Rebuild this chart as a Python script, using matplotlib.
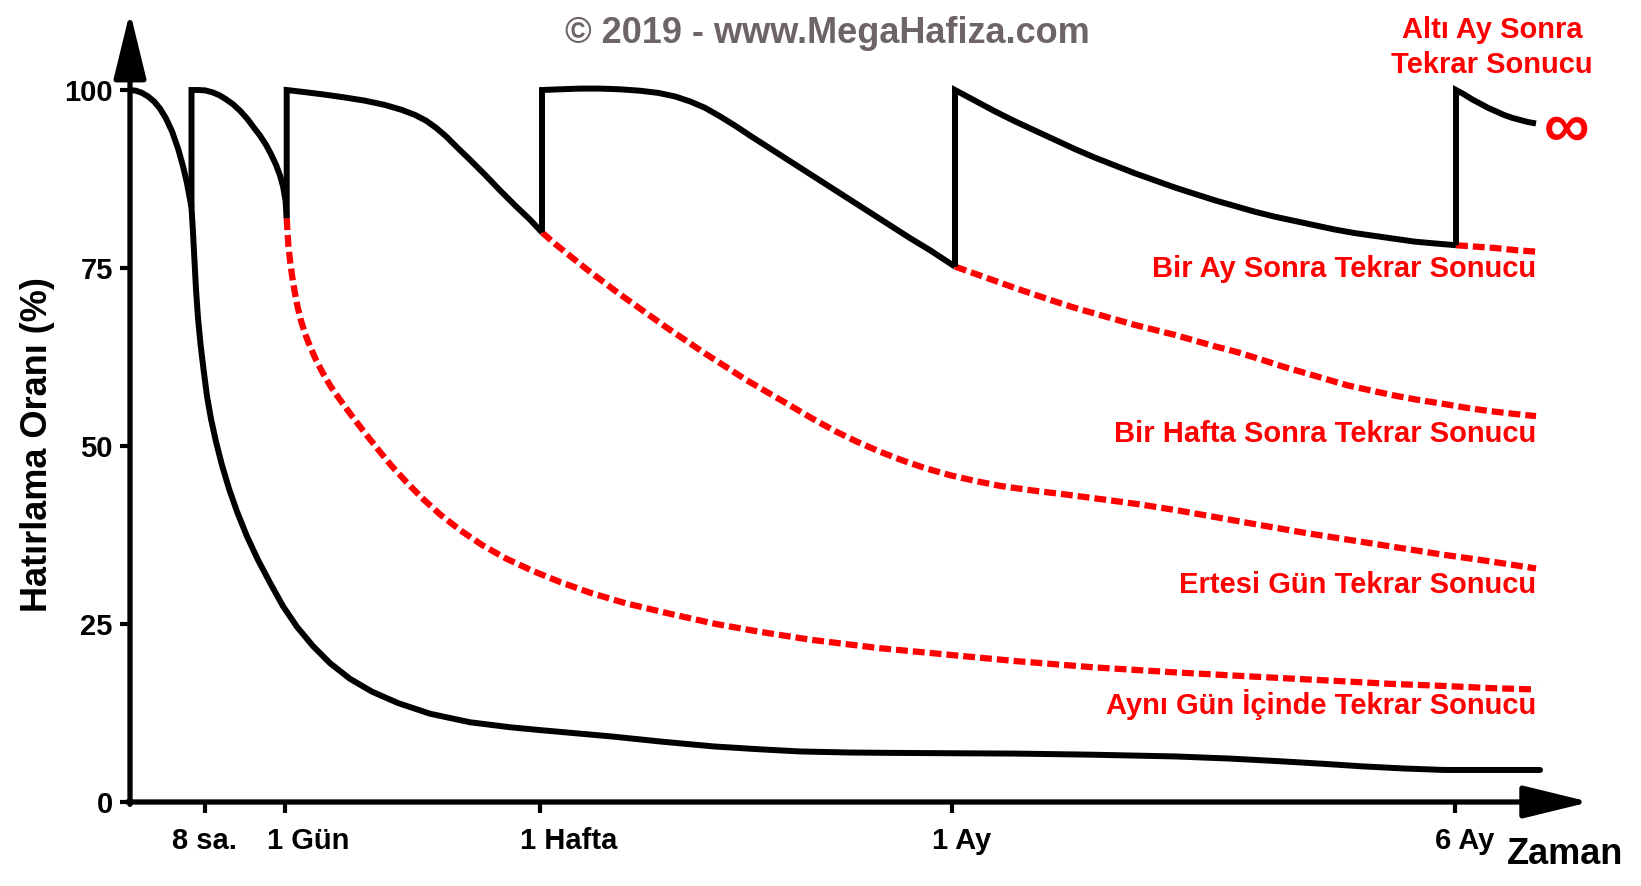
import matplotlib
matplotlib.use("Agg")
import matplotlib.pyplot as plt
from matplotlib.transforms import ScaledTranslation

# x is a drawing scale for time (not linear time), y is retention in %
tick_pos = [75, 155, 410, 822, 1325]
tick_labels = ["8 sa.", "1 Gün", "1 Hafta", "1 Ay", "6 Ay"]
y_ticks = [0, 25, 50, 75, 100]

# no review at all
unutma_x = [0, 6, 12, 18, 24, 30, 36, 42, 48, 53, 57, 61.5, 63, 64.5, 66, 68, 70.5, 73.5, 77,
            81, 86, 92, 99, 107, 117, 128, 140, 153, 167, 183, 200, 220, 242, 268, 300, 340,
            380, 410, 450, 482, 530, 584, 630, 670, 720, 760, 820, 885, 960, 1045, 1100, 1153,
            1195, 1233, 1275, 1314, 1360, 1410]
unutma_y = [100, 99.9, 99.6, 99.1, 98.4, 97.4, 96, 94.2, 91.8, 89.3, 86.9, 83.5, 80, 76, 72,
            68, 64.3, 60.8, 57, 53.8, 50.6, 47.3, 44, 40.8, 37.3, 34, 30.8, 27.5, 24.6, 21.9,
            19.5, 17.3, 15.5, 13.9, 12.4, 11.2, 10.5, 10.1, 9.6, 9.2, 8.5, 7.8, 7.4, 7.1, 6.95,
            6.9, 6.85, 6.8, 6.65, 6.4, 6.1, 5.7, 5.35, 5.0, 4.7, 4.5, 4.5, 4.5]

# after each review (first point = level just before the review)
tekrar_8sa_x = [61.5, 61.5, 68, 75, 82, 89, 96, 103, 110, 117, 124, 130, 136, 141, 146, 150,
                153, 155.5, 156.7]
tekrar_8sa_y = [83.5, 100, 100, 99.95, 99.7, 99.3, 98.7, 98.0, 97.1, 96.0, 94.7, 93.6, 92.3,
                91.0, 89.5, 88.0, 86.5, 84.5, 82.0]

tekrar_gun_x = [156.7, 156.7, 175, 195, 215, 235, 255, 272, 285, 296, 306, 316, 326, 340, 355,
                370, 385, 400, 412]
tekrar_gun_y = [82.0, 100, 99.7, 99.35, 98.95, 98.5, 97.9, 97.2, 96.5, 95.7, 94.7, 93.5, 92.1,
                90.2, 88.1, 85.9, 83.8, 81.8, 80.0]

tekrar_hafta_x = [412, 412, 430, 450, 470, 490, 510, 528, 545, 560, 575, 590, 605, 620, 640,
                  660, 680, 700, 720, 740, 760, 780, 800, 825]
tekrar_hafta_y = [80.0, 100, 100.1, 100.2, 100.2, 100.1, 99.9, 99.6, 99.1, 98.4, 97.5, 96.3,
                  95.0, 93.6, 91.8, 90.0, 88.2, 86.4, 84.6, 82.8, 81.0, 79.2, 77.5, 75.2]

tekrar_ay_x = [825, 825, 845, 865, 885, 905, 925, 945, 965, 985, 1005, 1025, 1045, 1065, 1085,
               1105, 1125, 1145, 1165, 1185, 1205, 1225, 1245, 1265, 1285, 1305, 1326]
tekrar_ay_y = [75.2, 100, 98.5, 97.0, 95.6, 94.3, 93.0, 91.7, 90.5, 89.4, 88.3, 87.3, 86.3,
               85.4, 84.5, 83.7, 82.9, 82.2, 81.6, 81.0, 80.4, 79.9, 79.5, 79.1, 78.7, 78.45,
               78.2]

tekrar_6ay_x = [1326, 1326, 1334, 1342, 1350, 1358, 1366, 1374, 1382, 1390, 1398, 1406]
tekrar_6ay_y = [78.2, 100, 99.4, 98.7, 98.1, 97.5, 97.0, 96.5, 96.1, 95.8, 95.5, 95.3]

# forgetting if the next review is skipped
ayni_gun_x = [156.7, 157.5, 158.5, 160, 162, 164.5, 167.5, 171, 175, 180, 186, 193, 201, 211,
              222, 234, 247, 261, 276, 292, 310, 330, 352, 376, 402, 430, 460, 496, 541, 586,
              630, 680, 750, 810, 885, 965, 1046, 1125, 1207, 1260, 1314, 1360, 1406]
ayni_gun_y = [82, 80, 78, 76.1, 74, 71.8, 69.6, 67.6, 65.8, 64.0, 62.1, 60.2, 58.3, 56.3, 54.2,
              52.0, 49.7, 47.3, 45.0, 42.7, 40.4, 38.2, 36.1, 34.2, 32.5, 30.9, 29.4, 27.9, 26.4,
              25.0, 23.9, 22.8, 21.6, 20.8, 19.8, 18.9, 18.2, 17.6, 17.0, 16.6, 16.3, 16.0, 15.8]

ertesi_gun_x = [412, 425, 440, 456, 472, 488, 504, 520, 537, 555, 575, 595, 616, 638, 660, 683,
                705, 727, 750, 772, 795, 820, 845, 870, 900, 935, 973, 1010, 1050, 1090, 1130,
                1175, 1220, 1265, 1310, 1360, 1406]
ertesi_gun_y = [80, 78.4, 76.7, 74.9, 73.2, 71.5, 69.9, 68.3, 66.6, 64.9, 63.0, 61.2, 59.3,
                57.5, 55.7, 53.8, 52.1, 50.6, 49.2, 48.0, 46.9, 45.9, 45.1, 44.4, 43.8, 43.2,
                42.5, 41.8, 40.9, 39.9, 38.9, 37.8, 36.8, 35.8, 34.8, 33.8, 32.8]

bir_hafta_x = [825, 845, 865, 885, 906, 925, 945, 965, 985, 1005, 1025, 1045, 1065, 1085, 1107,
               1130, 1152, 1174, 1196, 1218, 1241, 1264, 1287, 1310, 1335, 1360, 1385, 1406]
bir_hafta_y = [75.2, 74.2, 73.2, 72.2, 71.2, 70.3, 69.4, 68.6, 67.8, 67.0, 66.3, 65.6, 64.8,
               64.0, 63.2, 62.2, 61.2, 60.3, 59.4, 58.5, 57.8, 57.1, 56.5, 56.0, 55.4, 54.9,
               54.5, 54.2]

bir_ay_x = [1326, 1346, 1366, 1386, 1406]
bir_ay_y = [78.2, 78.0, 77.8, 77.5, 77.3]

sonuc_labels = ["Bir Ay Sonra Tekrar Sonucu", "Bir Hafta Sonra Tekrar Sonucu",
                "Ertesi Gün Tekrar Sonucu", "Aynı Gün İçinde Tekrar Sonucu"]
sonuc_label_y = [73.8, 50.5, 29.3, 12.4]

RED = "#ff0000"
plt.rcParams['font.family'] = ['Liberation Sans', 'DejaVu Sans']
plt.rcParams['font.weight'] = 'bold'

fig = plt.figure(figsize=(16.41, 8.86), dpi=100)
ax = fig.add_axes([130 / 1641, 84 / 886, 1460 / 1641, 790.3 / 886])
ax.set_xlim(0, 1460)
ax.set_ylim(0, 111)
for s in ax.spines.values():
    s.set_visible(False)

# red dashed curves (drawn first so black sits on top)
dash = (0, (1.9, 0.8))
for xs, ys in [(ayni_gun_x, ayni_gun_y), (ertesi_gun_x, ertesi_gun_y),
               (bir_hafta_x, bir_hafta_y), (bir_ay_x, bir_ay_y)]:
    ax.plot(xs, ys, color=RED, lw=4.5, linestyle=dash, dash_capstyle='butt',
            dash_joinstyle='round', zorder=2)

ax.plot(unutma_x, unutma_y, color='black', lw=4.3, solid_capstyle='round',
        solid_joinstyle='round', zorder=3)
for xs, ys in [(tekrar_8sa_x, tekrar_8sa_y), (tekrar_gun_x, tekrar_gun_y),
               (tekrar_hafta_x, tekrar_hafta_y), (tekrar_ay_x, tekrar_ay_y),
               (tekrar_6ay_x, tekrar_6ay_y)]:
    ax.plot(xs, ys, color='black', lw=4.3, solid_joinstyle='miter', solid_capstyle='butt', zorder=3)

# axis arrows
arrow = dict(arrowstyle='-|>,head_length=4.1,head_width=1.0', color='black', lw=3.8,
             shrinkA=0, shrinkB=0, mutation_scale=10)
ax.annotate('', xy=(0, 1), xytext=(0, -0.003), xycoords='axes fraction',
            textcoords='axes fraction', arrowprops=arrow, annotation_clip=False)
ax.annotate('', xy=(1, 0), xytext=(-0.0018, 0), xycoords='axes fraction',
            textcoords='axes fraction', arrowprops=arrow, annotation_clip=False)

ax.set_yticks(y_ticks)
ax.set_yticklabels([str(v) for v in y_ticks], fontsize=21, fontweight='bold')
ax.tick_params(axis='y', length=7.5, width=3, pad=5)
ax.set_xticks(tick_pos)
ax.set_xticklabels(tick_labels, fontsize=21, fontweight='bold')
ax.tick_params(axis='x', length=8, width=3, pad=10)
for lbl, dx in zip(ax.get_xticklabels(), [-33, -18, -20, -20, -20]):
    lbl.set_ha('left')
    lbl.set_transform(lbl.get_transform() + ScaledTranslation(dx / 100, 0, fig.dpi_scale_trans))

# labels of the dashed curves, right aligned at curve end
for txt, yv in zip(sonuc_labels, sonuc_label_y):
    ax.text(bir_ay_x[-1], yv, txt, color=RED, fontsize=21, fontweight='bold',
            ha='right', va='baseline')
ax.text(1362, 107.3, "Altı Ay Sonra", color=RED, fontsize=21, fontweight='bold',
        ha='center', va='baseline', clip_on=False)
ax.text(1362, 102.4, "Tekrar Sonucu", color=RED, fontsize=21, fontweight='bold',
        ha='center', va='baseline', clip_on=False)
ax.text(1436, 94.4, "∞", color=RED, fontsize=46, fontweight='bold',
        ha='center', va='center', clip_on=False)

fig.text(827 / 1641, 1 - 43 / 886, "© 2019 - www.MegaHafiza.com", color='#6d6466',
         fontsize=26, fontweight='bold', ha='center', va='baseline')
fig.text(38 / 1641, 1 - 445 / 886, "Hatırlama Oranı (%)", fontsize=26, fontweight='bold',
         rotation=90, ha='center', va='center')
fig.text(1565 / 1641, 1 - 864 / 886, "Zaman", fontsize=26, fontweight='bold',
         ha='center', va='baseline')

fig.savefig("out.png", dpi=100)
